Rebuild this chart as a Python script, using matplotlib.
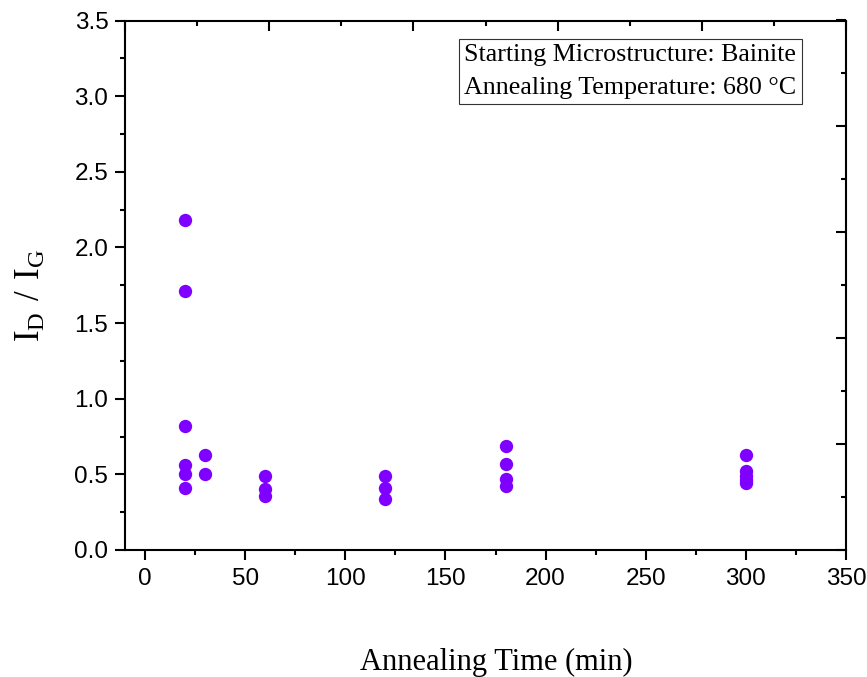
import matplotlib
matplotlib.use("Agg")
import matplotlib.pyplot as plt
from matplotlib.ticker import MultipleLocator

# data (annealing at 680 C, bainite start)
time_min = [20, 20, 20, 20, 20, 20,
            30, 30,
            60, 60, 60,
            120, 120, 120,
            180, 180, 180, 180,
            300, 300, 300, 300, 300]
id_ig = [2.18, 1.71, 0.82, 0.56, 0.50, 0.41,
         0.63, 0.50,
         0.49, 0.40, 0.36,
         0.49, 0.41, 0.34,
         0.69, 0.57, 0.47, 0.42,
         0.63, 0.52, 0.49, 0.46, 0.44]

xlim = (-10, 350)
ylim = (0, 3.5)
note = "Starting Microstructure: Bainite\nAnnealing Temperature: 680 \u00b0C"

purple = "#7F00FF"
sans = ["Liberation Sans", "DejaVu Sans"]
serif = ["Liberation Serif", "DejaVu Serif"]

fig = plt.figure(figsize=(8.67, 6.77), dpi=100)
pos = [125 / 867, 127 / 677, 721 / 867, 529.5 / 677]
ax = fig.add_axes(pos)

ax.plot(time_min, id_ig, linestyle="none", marker="o", ms=9.6,
        color=purple, markeredgewidth=0)

ax.set_xlim(*xlim)
ax.set_ylim(*ylim)
ax.xaxis.set_major_locator(MultipleLocator(50))
ax.xaxis.set_minor_locator(MultipleLocator(25))
ax.yaxis.set_major_locator(MultipleLocator(0.5))
ax.yaxis.set_minor_locator(MultipleLocator(0.25))
ax.yaxis.set_major_formatter(matplotlib.ticker.FormatStrFormatter("%.1f"))

for s in ax.spines.values():
    s.set_linewidth(1.5)
ax.tick_params(which="major", direction="out", length=7, width=1.5, pad=5,
               labelsize=17.5, top=False, right=False)
ax.tick_params(which="minor", direction="out", length=3.6, width=1.5,
               top=False, right=False)
ax.tick_params(axis="x", which="major", pad=6)
for lbl in ax.get_xticklabels() + ax.get_yticklabels():
    lbl.set_family(sans)

# mirrored top/right axis (own 0..1 scale, inward ticks, no labels)
ax2 = fig.add_axes(pos, frameon=False)
ax2.set_xlim(0, 1)
ax2.set_ylim(0, 1)
ax2.xaxis.set_major_locator(MultipleLocator(0.2))
ax2.xaxis.set_minor_locator(MultipleLocator(0.1))
ax2.yaxis.set_major_locator(MultipleLocator(0.2))
ax2.yaxis.set_minor_locator(MultipleLocator(0.1))
ax2.tick_params(which="both", direction="in", width=1.5,
                top=True, right=True, bottom=False, left=False,
                labeltop=False, labelright=False,
                labelbottom=False, labelleft=False)
ax2.tick_params(which="major", length=7)
ax2.tick_params(which="minor", length=3.6)

ax.text(0.4705, 0.955, note, transform=ax.transAxes, ha="left", va="top",
        family=serif, fontsize=18.7, linespacing=1.6,
        bbox=dict(boxstyle="square,pad=0.2", fc="white", ec="#333333", lw=0.8))

fig.text(496 / 867, 0.011, "Annealing Time (min)", ha="center", va="baseline",
         family=serif, fontsize=22)
fig.text(31 / 867, 0.564, r"$\mathregular{I_D\ /\ I_G}$", ha="center", va="center",
         rotation=90, family=serif, fontsize=25)

fig.savefig("out.png", dpi=100)
